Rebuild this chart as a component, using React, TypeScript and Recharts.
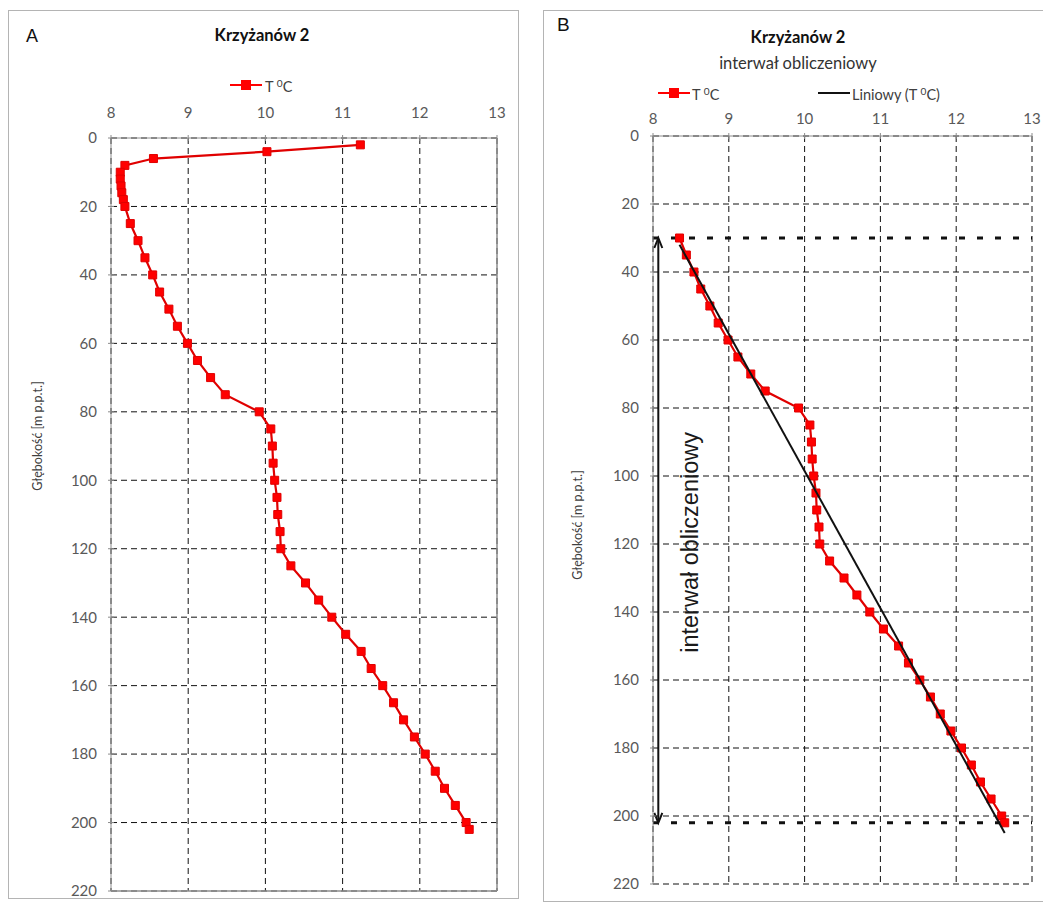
import { ScatterChart, Scatter, XAxis, YAxis, ZAxis, CartesianGrid, ReferenceLine } from "recharts"

// depth below ground [m] and measured temperature [°C]
const depths = [
  2, 4, 6, 8, 10, 12, 14, 16, 18, 20, 25, 30, 35, 40, 45, 50, 55, 60, 65, 70, 75, 80, 85, 90, 95, 100,
  105, 110, 115, 120, 125, 130, 135, 140, 145, 150, 155, 160, 165, 170, 175, 180, 185, 190, 195, 200, 202,
]
const temps = [
  11.23, 10.02, 8.55, 8.18, 8.12, 8.12, 8.13, 8.14, 8.16, 8.18, 8.25, 8.35, 8.44, 8.54, 8.63, 8.75, 8.86,
  8.99, 9.12, 9.29, 9.48, 9.92, 10.07, 10.09, 10.1, 10.12, 10.15, 10.16, 10.19, 10.2, 10.33, 10.52, 10.69,
  10.86, 11.04, 11.24, 11.37, 11.52, 11.66, 11.79, 11.93, 12.07, 12.2, 12.32, 12.46, 12.6, 12.64,
]

// linear trend ("Liniowy")
const trendTemps = [8.35, 12.64]
const trendDepths = [32, 205]

const tempTicks = [8, 9, 10, 11, 12, 13]
const depthTicks = [0, 20, 40, 60, 80, 100, 120, 140, 160, 180, 200, 220]

const intervalTop = 30
const intervalBottom = 202
const arrowTemp = 8.07

const profile = depths.map((depth, i) => ({ t: temps[i], depth }))
const profileInterval = profile.filter((p) => p.depth >= intervalTop)
const trend = trendTemps.map((t, i) => ({ t, depth: trendDepths[i] }))

const FONT = "Lato, 'Noto Sans', sans-serif"
const ARIAL = "'Liberation Sans', Arial, sans-serif"
const RED = "#ff0000"
const AXIS_GRAY = "#8c8c8c"
const TICK_TEXT = "#595959"

function IntervalArrow(props: any) {
  const { x1, y1, y2 } = props
  const x = x1
  const mid = (y1 + y2) / 2
  return (
    <g>
      <line x1={x} y1={y1 + 1} x2={x} y2={y2 - 1} stroke="#111" strokeWidth={2} />
      <path d={`M${x - 4},${y1 + 10} L${x},${y1} L${x + 4},${y1 + 10}`} fill="none" stroke="#111" strokeWidth={2} />
      <path d={`M${x - 4},${y2 - 10} L${x},${y2} L${x + 4},${y2 - 10}`} fill="none" stroke="#111" strokeWidth={2} />
      <text
        transform={`translate(${x + 32}, ${mid + 12}) rotate(-90)`}
        textAnchor="middle"
        dominantBaseline="central"
        fontSize={23.5}
        fontFamily={ARIAL}
        fill="#1a1a1a"
      >
        interwał obliczeniowy
      </text>
    </g>
  )
}

function SeriesIcon({ marker, color }: { marker: boolean; color: string }) {
  return (
    <svg width={32} height={12} style={{ display: "block" }}>
      <line x1={0} y1={6} x2={32} y2={6} stroke={color} strokeWidth={2} />
      {marker && <rect x={11} y={1} width={10} height={10} fill={color} />}
    </svg>
  )
}

function Abs({ style, children }: { style: React.CSSProperties; children?: React.ReactNode }) {
  return <div style={{ position: "absolute", whiteSpace: "nowrap", ...style }}>{children}</div>
}

function TempLabel() {
  return (
    <span>
      T <sup style={{ fontSize: "0.7em", verticalAlign: "0.45em" }}>0</sup>C
    </span>
  )
}

function ProfileChart({ interval }: { interval: boolean }) {
  const width = interval ? 513 : 520
  const margin = interval
    ? { top: 106, left: 73, right: 11, bottom: 19 }
    : { top: 108, left: 61, right: 23, bottom: 12 }
  return (
    <ScatterChart width={width} height={903} margin={margin}>
      <CartesianGrid strokeDasharray="6 4" stroke="#111" />
      <XAxis
        type="number"
        dataKey="t"
        orientation="top"
        domain={[8, 13]}
        ticks={tempTicks}
        height={30}
        stroke={AXIS_GRAY}
        tickSize={6}
        tickLine={{ stroke: AXIS_GRAY, transform: "translate(0,3)" }}
        tickMargin={interval ? 6 : 14}
        tick={{ fill: TICK_TEXT, fontSize: 15, fontFamily: FONT }}
      />
      <YAxis
        type="number"
        dataKey="depth"
        reversed
        domain={[0, 220]}
        ticks={depthTicks}
        width={50}
        stroke={AXIS_GRAY}
        tickSize={6}
        tickLine={{ stroke: AXIS_GRAY, transform: "translate(3,0)" }}
        tickMargin={8}
        tick={{ fill: TICK_TEXT, fontSize: 15, fontFamily: FONT }}
      />
      <ZAxis range={[110, 110]} />
      {!interval && <ReferenceLine x={13} stroke={AXIS_GRAY} strokeWidth={1.5} />}
      {!interval && <ReferenceLine y={220} stroke={AXIS_GRAY} strokeWidth={1.5} />}
      {interval && <ReferenceLine y={intervalTop} stroke="#111" strokeWidth={3} strokeDasharray="6 12" />}
      {interval && <ReferenceLine y={intervalBottom} stroke="#111" strokeWidth={3} strokeDasharray="6 12" />}
      <Scatter
        data={interval ? profileInterval : profile}
        fill={RED}
        stroke="#e00000"
        shape="square"
        line={{ stroke: "#e00000", strokeWidth: 2.2 }}
        isAnimationActive={false}
      />
      {interval && (
        <Scatter
          data={trend}
          fill="none"
          shape={() => <g />}
          line={{ stroke: "#111", strokeWidth: 2 }}
          isAnimationActive={false}
        />
      )}
      {interval && (
        <ReferenceLine
          segment={[
            { x: arrowTemp, y: intervalTop },
            { x: arrowTemp, y: intervalBottom },
          ]}
          shape={IntervalArrow}
        />
      )}
    </ScatterChart>
  )
}

export default function App() {
  return (
    <div style={{ position: "absolute", left: 0, top: 0, width: 1043, height: 903, background: "#fff", overflow: "hidden" }}>
      {/* panel A */}
      <Abs style={{ left: 8, top: 10, width: 511, height: 889, border: "1px solid #b4b4b4", boxSizing: "border-box" }} />
      <Abs style={{ left: 0, top: 0 }}>
        <ProfileChart interval={false} />
      </Abs>
      <Abs style={{ left: 26, top: 27, fontFamily: ARIAL, fontSize: 18, lineHeight: "18px", color: "#111" }}>A</Abs>
      <Abs style={{ left: 162, width: 200, top: 25, textAlign: "center", fontFamily: FONT, fontWeight: 700, fontSize: 16.5, lineHeight: "20px", color: "#111" }}>
        Krzyżanów 2
      </Abs>
      <Abs style={{ left: 230, top: 74, display: "flex", alignItems: "center", fontFamily: FONT, fontSize: 14.5, color: "#404040", lineHeight: "18px" }}>
        <SeriesIcon marker color={RED} />
        <span style={{ marginLeft: 3 }}>
          <TempLabel />
        </span>
      </Abs>
      <Abs style={{ left: 37, top: 436, fontFamily: FONT, fontSize: 12.5, color: "#404040", transform: "translate(-50%, -50%) rotate(-90deg)" }}>
        Głębokość [m p.p.t.]
      </Abs>

      {/* panel B */}
      <Abs style={{ left: 543, top: 10, width: 520, height: 892, border: "1px solid #b4b4b4", boxSizing: "border-box" }} />
      <Abs style={{ left: 530, top: 0 }}>
        <ProfileChart interval />
      </Abs>
      <Abs style={{ left: 557, top: 15, fontFamily: ARIAL, fontSize: 19, lineHeight: "19px", color: "#111" }}>B</Abs>
      <Abs style={{ left: 698, width: 200, top: 27, textAlign: "center", fontFamily: FONT, fontWeight: 700, fontSize: 16.5, lineHeight: "20px", color: "#111" }}>
        Krzyżanów 2
      </Abs>
      <Abs style={{ left: 698, width: 200, top: 52, textAlign: "center", fontFamily: FONT, fontSize: 16.5, lineHeight: "22px", color: "#333" }}>
        interwał obliczeniowy
      </Abs>
      <Abs style={{ left: 658, top: 82, display: "flex", alignItems: "center", fontFamily: FONT, fontSize: 14.5, color: "#404040", lineHeight: "18px" }}>
        <SeriesIcon marker color={RED} />
        <span style={{ marginLeft: 2 }}>
          <TempLabel />
        </span>
      </Abs>
      <Abs style={{ left: 818, top: 82, display: "flex", alignItems: "center", fontFamily: FONT, fontSize: 14.5, color: "#404040", lineHeight: "18px" }}>
        <SeriesIcon marker={false} color="#111" />
        <span style={{ marginLeft: 2 }}>
          Liniowy (<TempLabel />)
        </span>
      </Abs>
      <Abs style={{ left: 577, top: 525, fontFamily: FONT, fontSize: 12.5, color: "#404040", transform: "translate(-50%, -50%) rotate(-90deg)" }}>
        Głębokość [m p.p.t.]
      </Abs>
    </div>
  )
}
